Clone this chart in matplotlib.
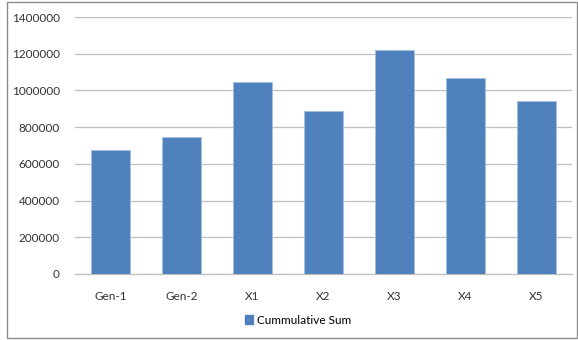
import matplotlib.pyplot as plt
from matplotlib.patches import Rectangle, Patch
import numpy as np

categories = ['Gen-1', 'Gen-2', 'X1', 'X2', 'X3', 'X4', 'X5']
cum_sum = [678000, 748000, 1048000, 886000, 1220000, 1070000, 940000]
yticks = [0, 200000, 400000, 600000, 800000, 1000000, 1200000, 1400000]

plt.rcParams['font.family'] = ['Lato', 'DejaVu Sans']

fig = plt.figure(figsize=(5.78, 3.40), dpi=100)
ax = fig.add_axes([75 / 578, 1 - 274 / 340, 497 / 578, (274 - 17) / 340])

ind = np.arange(len(categories))
bars = ax.bar(ind, cum_sum, 0.56, color='#4f81bd', edgecolor='#a7bfde',
              linewidth=0.6, zorder=3)

ax.set_xlim(-0.5, len(categories) - 0.5)
ax.set_ylim(0, 1400000)
ax.set_yticks(yticks)
ax.set_yticklabels([str(v) for v in yticks])
ax.set_xticks(ind)
ax.set_xticklabels(categories)
ax.tick_params(axis='both', length=0, labelsize=8.5, colors='#333333')
ax.tick_params(axis='y', pad=11)
ax.tick_params(axis='x', pad=12)
ax.grid(axis='y', color='#bfbfbf', linewidth=0.9, zorder=0)
for side in ['top', 'right', 'left']:
    ax.spines[side].set_visible(False)
ax.spines['bottom'].set_color('#bfbfbf')
ax.spines['bottom'].set_linewidth(0.9)

handle = Patch(facecolor='#4f81bd', edgecolor='#4f81bd')
fig.legend([handle], ['Cummulative Sum'], loc='center',
           bbox_to_anchor=(298 / 578, 1 - 320 / 340), frameon=False,
           fontsize=8.5, handlelength=0.7, handleheight=0.7, handletextpad=0.3)

# outer chart frame
fig.patches.append(Rectangle((7 / 578, 2 / 340), 570 / 578, 336 / 340,
                             transform=fig.transFigure, fill=False,
                             edgecolor='#8c8c8c', linewidth=1.0))

fig.savefig('out.png', dpi=100)
